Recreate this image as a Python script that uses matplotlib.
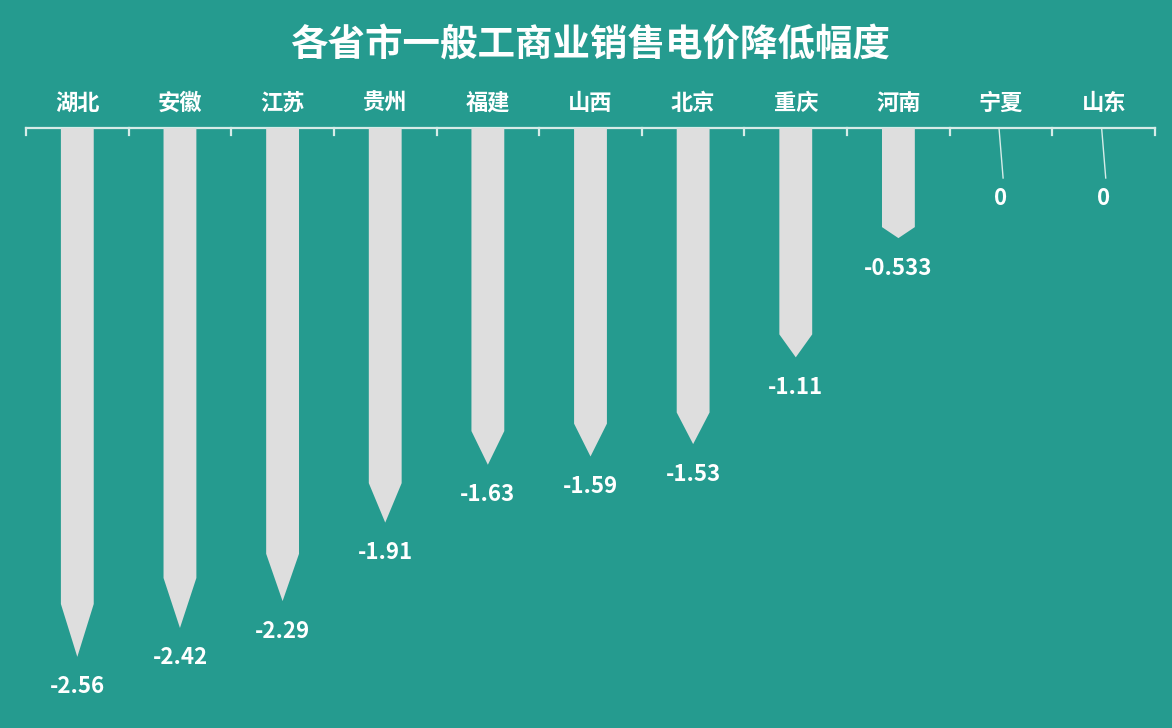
import matplotlib
matplotlib.use("Agg")
import matplotlib.pyplot as plt
from matplotlib.patches import Polygon

plt.rcParams["font.family"] = ["Noto Sans CJK SC", "DejaVu Sans"]

# ── Data ─────────────────────────────────────────────────────────────────────
provinces = ["湖北", "安徽", "江苏", "贵州", "福建", "山西", "北京", "重庆", "河南", "宁夏", "山东"]
reductions = [-2.56, -2.42, -2.29, -1.91, -1.63, -1.59, -1.53, -1.11, -0.533, 0, 0]
value_labels = ["-2.56", "-2.42", "-2.29", "-1.91", "-1.63", "-1.59", "-1.53", "-1.11", "-0.533", "0", "0"]

TITLE = "各省市一般工商业销售电价降低幅度"

BG = "#259b8f"
BAR = "#dedede"
AXIS = "#d6ece8"
W, H = 1172, 728

fig = plt.figure(figsize=(W / 100, H / 100), dpi=100, facecolor=BG)

# axes: top edge = value 0 at y=128px, spans the full width of the category axis
left, right, top = 26, 1155, 128
ax = fig.add_axes([left / W, 0, (right - left) / W, 1 - top / H])
ax.set_facecolor(BG)
px_per_unit = 206.6
ax.set_ylim(-(H - top) / px_per_unit, 0)
ax.set_xlim(-0.5, len(provinces) - 0.5)
ax.axis("off")

half = 0.16
off = 30 / px_per_unit
for i, (v, lab) in enumerate(zip(reductions, value_labels)):
    if v < 0:
        shoulder = 0.9 * v
        pts = [(i - half, 0), (i + half, 0), (i + half, shoulder), (i, v), (i - half, shoulder)]
        ax.add_patch(Polygon(pts, closed=True, facecolor=BAR, edgecolor="none", zorder=2))
        ax.text(i, v - off, lab, ha="center", va="center", color="white",
                fontsize=16, fontweight="bold", zorder=3)
    else:
        # leader line for zero values
        lead = 50 / px_per_unit
        ax.plot([i - 0.02, i + 0.02], [0, -lead], color=AXIS, lw=1.0, zorder=2)
        ax.text(i, -lead - 20 / px_per_unit, lab, ha="center", va="center", color="white",
                fontsize=16, fontweight="bold", zorder=3)

# top category axis with boundary ticks
tick_len = 7 / px_per_unit
ax.plot([-0.5, len(provinces) - 0.5], [0, 0], color=AXIS, lw=1.6, zorder=1, clip_on=False)
for b in range(len(provinces) + 1):
    ax.plot([b - 0.5, b - 0.5], [0, -tick_len], color=AXIS, lw=1.6, zorder=1, clip_on=False)

for i, name in enumerate(provinces):
    ax.text(i, 25 / px_per_unit, name, ha="center", va="center", color="white",
            fontsize=16, fontweight="heavy", clip_on=False)

fig.text(590 / W, 1 - 45 / H, TITLE, ha="center", va="center", color="white",
         fontsize=27, fontweight="heavy")

fig.savefig("out.png", dpi=100, facecolor=BG)
